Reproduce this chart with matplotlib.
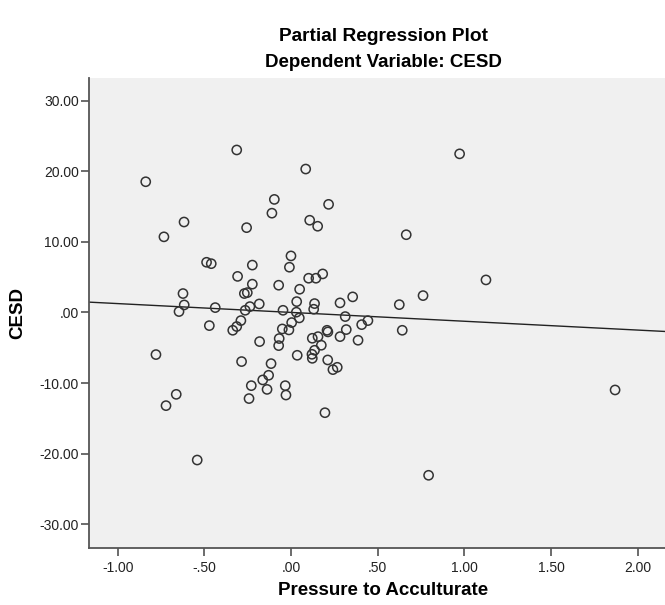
import matplotlib
matplotlib.use("Agg")
import matplotlib.pyplot as plt
import numpy as np

plt.rcParams['font.family'] = ['Liberation Sans', 'DejaVu Sans']

# partial residuals
pressure = [-0.313, -0.838, -0.096, -0.110, -0.617, -0.256, -0.733, 0.000, 0.973, 0.085,
            0.217, 0.108, 0.154, 0.665, -0.487, -0.460, -0.223, -0.009, -0.308, -0.223,
            -0.071, -0.623, -0.269, -0.252, -0.616, -0.183, -0.237, -0.646, -0.437, -0.264,
            -0.046, 0.004, -0.289, -0.471, -0.313, -0.336, -0.050, -0.012, -0.181, -0.068,
            -0.071, -0.779, -0.285, -0.115, -0.129, -0.163, -0.229, -0.138, -0.033, -0.029,
            -0.242, -0.662, -0.721, -0.541, 0.102, 0.144, 0.183, 0.050, 0.033, 0.136,
            0.131, 0.031, 0.048, 0.283, 0.356, 0.313, 0.444, 0.408, 0.625, 0.762,
            0.642, 0.208, 0.213, 0.319, 0.283, 0.387, 0.123, 0.156, 0.175, 0.136,
            0.121, 0.123, 0.036, 0.212, 0.242, 0.267, 0.196, 0.794, 1.125, 1.870]
cesd = [23.0, 18.5, 16.0, 14.05, 12.8, 12.0, 10.7, 8.0, 22.45, 20.3,
        15.3, 13.05, 12.2, 11.0, 7.1, 6.9, 6.7, 6.4, 5.1, 4.0,
        3.85, 2.67, 2.67, 2.8, 1.06, 1.2, 0.82, 0.12, 0.68, 0.3,
        0.3, -1.44, -1.16, -1.87, -2.0, -2.53, -2.34, -2.48, -4.13, -3.7,
        -4.7, -5.97, -6.96, -7.25, -8.9, -9.56, -10.37, -10.9, -10.37, -11.7,
        -12.2, -11.6, -13.2, -20.9, 4.84, 4.84, 5.45, 3.28, 1.53, 1.25,
        0.45, 0.03, -0.78, 1.35, 2.2, -0.59, -1.16, -1.73, 1.1, 2.38,
        -2.53, -2.53, -2.76, -2.43, -3.43, -3.94, -3.66, -3.43, -4.65, -5.36,
        -5.93, -6.5, -6.07, -6.73, -8.1, -7.77, -14.2, -23.06, 4.6, -10.98]

fit_slope = -1.25
fit_intercept = 0.0

xticks = [-1.0, -0.5, 0.0, 0.5, 1.0, 1.5, 2.0]
yticks = [-30, -20, -10, 0, 10, 20, 30]


def spss_fmt(v):
    s = "%.2f" % v
    if s.startswith("0."):
        s = s[1:]
    elif s.startswith("-0."):
        s = "-" + s[2:]
    return s


fig = plt.figure(figsize=(6.65, 6.05), dpi=100)
ax = fig.add_axes([0.1334, 0.0937, 0.8666, 0.7775])
ax.set_facecolor('#f0f0f0')

xlim = (-1.167, 2.158)
ax.set_xlim(xlim)
ax.set_ylim(-33.4, 33.2)

xs = np.array(xlim)
ax.plot(xs, fit_intercept + fit_slope * xs, color='#222222', lw=1.0, zorder=2)
ax.scatter(pressure, cesd, s=44, facecolors='none', edgecolors='#333333',
           linewidths=1.1, zorder=3)

ax.set_xticks(xticks)
ax.set_xticklabels([spss_fmt(v) for v in xticks])
ax.set_yticks(yticks)
ax.set_yticklabels([spss_fmt(v) for v in yticks])
ax.tick_params(direction='out', length=6, width=1.1, color='#444444',
               labelsize=10, labelcolor='#222222')
ax.tick_params(axis='x', pad=3)
ax.tick_params(axis='y', pad=1)

for side in ['top', 'right']:
    ax.spines[side].set_visible(False)
for side in ['left', 'bottom']:
    ax.spines[side].set_color('#555555')
    ax.spines[side].set_linewidth(1.3)

fig.text(0.576, 0.940, 'Partial Regression Plot', ha='center', va='center',
         fontsize=13.8, fontweight='bold')
fig.text(0.576, 0.897, 'Dependent Variable: CESD', ha='center', va='center',
         fontsize=13.5, fontweight='bold')
fig.text(0.576, 0.024, 'Pressure to Acculturate', ha='center', va='center',
         fontsize=13.5, fontweight='bold')
fig.text(0.027, 0.483, 'CESD', ha='center', va='center', rotation=90,
         fontsize=13.5, fontweight='bold')

fig.savefig('out.png', dpi=100)
